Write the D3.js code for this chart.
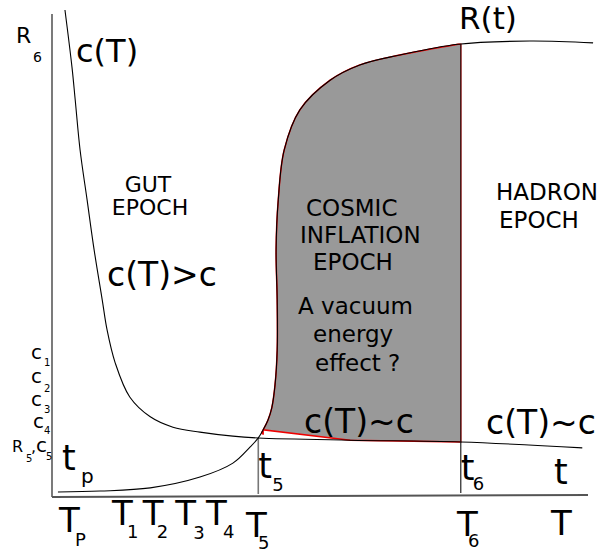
<!DOCTYPE html>
<html>
<head>
<meta charset="utf-8">
<script src="https://cdn.jsdelivr.net/npm/d3@7"></script>
<style>
  body { margin: 0; background: #fff; }
  svg text { font-family: "DejaVu Sans", sans-serif; fill: #000; }
</style>
</head>
<body>
<div id="chart"></div>
<script>
// curves, in chart units (x: time 0..100, y: 0..100)
var cT = [
  [2.4, 108.0], [3.7, 95.3], [4.3, 88.0], [5.2, 76.9], [6.5, 65.8], [7.8, 54.7],
  [9.3, 43.6], [10.2, 36.9], [11.7, 29.6], [14.4, 22.0], [18.2, 17.6], [22.4, 15.3],
  [27.4, 14.2], [33.5, 13.3], [38.2, 12.9], [55.2, 12.4], [75.7, 12.0], [98.2, 10.7]
];
var rT = [
  [1.1, 0.9], [8.9, 1.1], [18.2, 1.8], [27.4, 4.2], [33.5, 7.3], [36.7, 10.9],
  [38.2, 12.9], [39.1, 14.7], [40.0, 16.9], [40.7, 19.6], [41.3, 24.7], [41.7, 32.4],
  [41.7, 43.6], [41.5, 54.7], [41.9, 65.8], [43.0, 76.9], [45.9, 85.8], [51.5, 92.4],
  [57.0, 95.8], [64.4, 98.0], [75.2, 100.4], [88.5, 101.1], [100.2, 100.7]
];
var t5 = 38.2, t6 = 75.7;
var tickNames = ["P", "1", "2", "3", "4", "5", "6", ""];
var tickX = [1.5, 11.3, 17.0, 23.0, 28.7, 36.1, 75.2, 92.6];
var cNames = ["1", "2", "3", "4"];
var cY = [30.4, 25.1, 20.0, 15.1];
var r5Y = 9.8;

var W = 600, H = 557;
var x = d3.scaleLinear().domain([0, 100]).range([52, 592]);
var y = d3.scaleLinear().domain([0, 100]).range([496, 46]);

var svg = d3.select("#chart").append("svg")
  .attr("width", W).attr("height", H);

var line = d3.line().x(function(d) { return x(d[0]); }).y(function(d) { return y(d[1]); })
  .curve(d3.curveCatmullRom);

// inflation region: R(t) between t5 and t6, closed along c(T)
var left = rT.filter(function(d) { return d[0] > t5 && d[0] <= 75.3; });
var bottom = cT.filter(function(d) { return d[0] > t5 + 1 && d[0] < t6; }).reverse();
var regionPath = line(left) +
  "L" + x(t6) + "," + y(left[left.length - 1][1]) +
  "L" + x(t6) + "," + y(12.0) +
  line(bottom).replace(/^M/, "L") +
  "L" + x(39.1) + "," + y(13.8) +
  "Q" + x(38.6) + "," + y(13.8) + " " + x(left[0][0]) + "," + y(left[0][1]) + "Z";

svg.append("path").attr("d", regionPath)
  .attr("fill", "#999").attr("stroke", "#e00").attr("stroke-width", 1.5);

// axes
svg.append("line").attr("x1", 52).attr("y1", 14).attr("x2", 52).attr("y2", 497)
  .attr("stroke", "#333").attr("stroke-width", 1.3);
svg.append("line").attr("x1", 52).attr("y1", 497).attr("x2", 588).attr("y2", 495)
  .attr("stroke", "#555").attr("stroke-width", 2);

// time markers
svg.append("line").attr("x1", x(t5)).attr("x2", x(t5)).attr("y1", y(12.9)).attr("y2", 494)
  .attr("stroke", "#777").attr("stroke-width", 1.6);
svg.append("line").attr("x1", x(t6)).attr("x2", x(t6)).attr("y1", y(100.4)).attr("y2", 493)
  .attr("stroke", "#222").attr("stroke-width", 1.2);

svg.append("path").attr("d", line(cT)).attr("fill", "none")
  .attr("stroke", "#000").attr("stroke-width", 1.1);
svg.append("path").attr("d", line(rT)).attr("fill", "none")
  .attr("stroke", "#000").attr("stroke-width", 1.1);

function txt(tx, ty, s, size, anchor) {
  return svg.append("text").attr("x", tx).attr("y", ty).attr("font-size", size)
    .attr("text-anchor", anchor || "start").text(s);
}
function sub(tx, ty, s, size, dx, dy, s2, size2) {
  txt(tx, ty, s, size);
  txt(tx + dx, ty + dy, s2, size2);
}

// labels
sub(16, 43, "R", 22, 17, 19, "6", 14);
txt(76, 62, "c(T)", 32);
txt(148, 192, "GUT", 22, "middle");
txt(150, 215, "EPOCH", 22, "middle");
txt(107, 286, "c(T)>c", 33);
txt(459, 29, "R(t)", 31);
txt(306, 216, "COSMIC", 23);
txt(300, 243, "INFLATION", 23);
txt(313, 270, "EPOCH", 23);
txt(298, 314, "A vacuum", 23);
txt(313, 342, "energy", 23);
txt(315, 371, "effect ?", 23);
txt(496, 200, "HADRON", 23);
txt(499, 228, "EPOCH", 23);
txt(304, 433, "c(T)~c", 33);
txt(486, 434, "c(T)~c", 33);

sub(62, 470, "t", 35, 19, 13, "p", 20);
sub(x(t5), 478, "t", 35, 14, 13, "5", 18);
sub(x(t6), 480, "t", 35, 12, 10, "6", 18);
txt(554, 484, "t", 35);

// left level labels
cNames.forEach(function(n, i) {
  var by = y(cY[i]);
  txt(i === 3 ? 33 : 31, by, "c", 20);
  txt(44, by + [7, 9, 7, 6][i], n, 10);
});
txt(12, y(r5Y), "R", 16);
txt(26, y(r5Y) + 10, "5", 10);
txt(31, y(r5Y), ",", 16);
txt(36, y(r5Y), "c", 20);
txt(46, y(r5Y) + 8, "5", 10);

// bottom tick labels
var baseY = [532, 525, 525, 525, 525, 537, 536, 535];
var subDx = [16, 15, 14, 18, 17, 12, 11, 0];
var subDy = [14, 13, 13, 14, 13, 12, 11, 0];
tickNames.forEach(function(n, i) {
  var tx = x(tickX[i]) - 1;
  txt(tx, baseY[i], "T", 34);
  if (n) txt(tx + subDx[i], baseY[i] + subDy[i], n, 18);
});
</script>
</body>
</html>
